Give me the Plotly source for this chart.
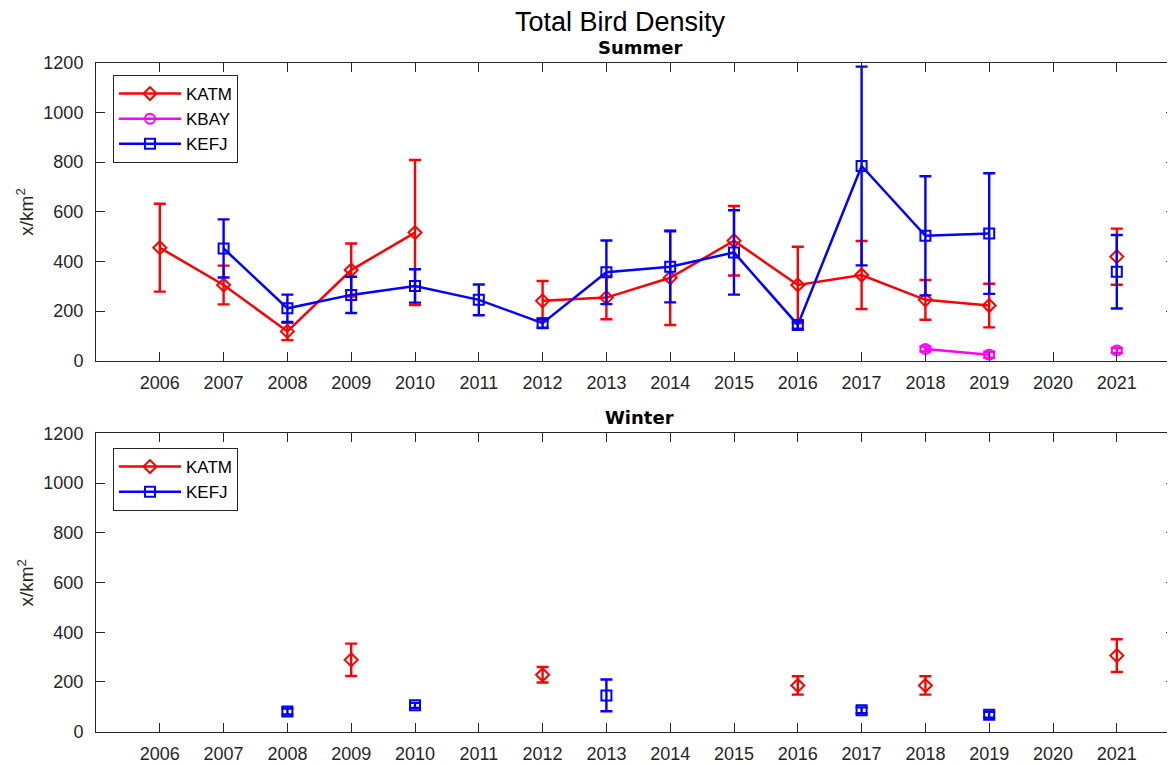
import numpy as np
import plotly.graph_objects as go

nan = np.nan
years = list(range(2006, 2022))

# Summer
summer_katm = [455, 305, 118, 365, 516, nan, 241, 254, 334, 483, 305, 345, 245, 222, nan, 419]
summer_katm_err = [177, 78, 35, 107, 292, nan, 80, 87, 190, 140, 154, 137, 80, 88, nan, 113]
summer_kbay = [nan, nan, nan, nan, nan, nan, nan, nan, nan, nan, nan, nan, 47, 24, nan, 41]
summer_kbay_err = [nan, nan, nan, nan, nan, nan, nan, nan, nan, nan, nan, nan, 10, 12, nan, 10]
summer_kefj = [nan, 452, 211, 265, 301, 245, 151, 356, 378, 436, 144, 784, 503, 512, nan, 358]
summer_kefj_err = [nan, 117, 55, 73, 67, 62, 18, 128, 143, 170, 15, 400, 240, 243, nan, 148]

# Winter
winter_katm = [nan, nan, nan, 289, nan, nan, 229, nan, nan, nan, 186, nan, 186, nan, nan, 306]
winter_katm_err = [nan, nan, nan, 65, nan, nan, 31, nan, nan, nan, 37, nan, 37, nan, nan, 66]
winter_kefj = [nan, nan, 81, nan, 106, nan, nan, 146, nan, nan, nan, 86, nan, 68, nan, nan]
winter_kefj_err = [nan, nan, 12, nan, 10, nan, nan, 64, nan, nan, nan, 12, nan, 12, nan, nan]

y_ticks = [0, 200, 400, 600, 800, 1000, 1200]

# page body has an 8px margin: the figure starts at (8, 8) of the window
OFF = 8
WIN_W, WIN_H = 1175, 765
W, H = WIN_W - OFF, WIN_H - OFF
L = 96 - OFF
PW = W - L

def px_x(p):
    return (p - OFF - L) / PW

def px_y(p):
    return (H - (p - OFF)) / H

fig = go.Figure()

def add(name, y, err, color, symbol, xa, ya, legend, show=True):
    fig.add_trace(go.Scatter(
        x=years, y=y, name=name, mode="lines+markers",
        line=dict(color=color, width=2.5),
        marker=dict(symbol=symbol, size=10, color=color, line=dict(color=color, width=2)),
        error_y=dict(type="data", array=err, visible=True, color=color, thickness=2.4, width=6),
        xaxis=xa, yaxis=ya, legend=legend, showlegend=show,
    ))

add("KATM", summer_katm, summer_katm_err, "#FF0000", "diamond-open", "x", "y", "legend")
add("KBAY", summer_kbay, summer_kbay_err, "#FF00FF", "circle-open", "x", "y", "legend")
add("KEFJ", summer_kefj, summer_kefj_err, "#0000FF", "square-open", "x", "y", "legend")
add("KATM", winter_katm, winter_katm_err, "#FF0000", "diamond-open", "x2", "y2", "legend2")
add("KEFJ", winter_kefj, winter_kefj_err, "#0000FF", "square-open", "x2", "y2", "legend2")

tickfont = dict(family="Liberation Sans, Arial, sans-serif", size=18, color="#262626")
axcommon = dict(
    showline=True, linecolor="#262626", linewidth=1, mirror="allticks",
    ticks="inside", ticklen=9, tickcolor="#262626", tickwidth=1,
    showgrid=False, zeroline=False, tickfont=tickfont,
)
xr = [2005, 2005 + PW / 63.8]
top_dom = [px_y(360.7), px_y(62.7)]
bot_dom = [px_y(731.7), px_y(433.3)]

legend_font = dict(family="Liberation Sans, Arial, sans-serif", size=17, color="#000000")
fig.update_layout(
    width=W, height=H,
    margin=dict(l=L, r=0, t=0, b=0, autoexpand=False),
    paper_bgcolor="white", plot_bgcolor="white",
    xaxis=dict(domain=[0, 1], range=xr, tickvals=years, anchor="y", ticklabelstandoff=6, **axcommon),
    yaxis=dict(domain=top_dom, range=[0, 1200], tickvals=y_ticks, anchor="x", ticklabelstandoff=8, **axcommon),
    xaxis2=dict(domain=[0, 1], range=xr, tickvals=years, anchor="y2", ticklabelstandoff=6, **axcommon),
    yaxis2=dict(domain=bot_dom, range=[0, 1200], tickvals=y_ticks, anchor="x2", ticklabelstandoff=8, **axcommon),
    legend=dict(
        x=px_x(113), y=px_y(75), xanchor="left", yanchor="top",
        bgcolor="white", bordercolor="#262626", borderwidth=1,
        font=legend_font, itemwidth=62, tracegroupgap=0,
    ),
    legend2=dict(
        x=px_x(113), y=px_y(448), xanchor="left", yanchor="top",
        bgcolor="white", bordercolor="#262626", borderwidth=1,
        font=legend_font, itemwidth=62, tracegroupgap=0,
    ),
    showlegend=True,
)

ann_font = dict(family="DejaVu Sans, sans-serif", size=18, color="#000000")
fig.add_annotation(text="Total Bird Density", x=px_x(620), y=px_y(22.5), xref="paper", yref="paper",
                   showarrow=False, xanchor="center", yanchor="middle",
                   font=dict(family="Liberation Sans, Arial, sans-serif", size=27, color="#000000"))
fig.add_annotation(text="<b>Summer</b>", x=px_x(639.5), y=px_y(47.5), xref="paper", yref="paper",
                   showarrow=False, xanchor="center", yanchor="middle", font=ann_font)
fig.add_annotation(text="<b>Winter</b>", x=px_x(639.5), y=px_y(417.5), xref="paper", yref="paper",
                   showarrow=False, xanchor="center", yanchor="middle", font=ann_font)
for yc in [211.7, 582.5]:
    fig.add_annotation(text="x/km<sup>2</sup>", x=px_x(25), y=px_y(yc), xref="paper", yref="paper",
                       showarrow=False, xanchor="center", yanchor="middle", textangle=-90,
                       font=dict(family="Liberation Sans, Arial, sans-serif", size=19, color="#262626"))

fig.write_html("out.html")
